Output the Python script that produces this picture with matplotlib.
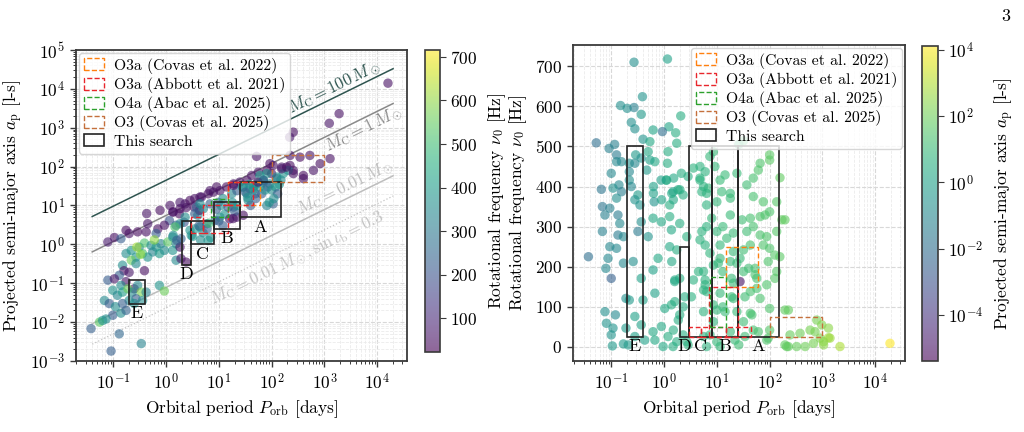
import matplotlib
matplotlib.use("Agg")
import numpy as np
import matplotlib.pyplot as plt
from matplotlib.colors import LogNorm, Normalize
from matplotlib.patches import Rectangle, Patch
from matplotlib.ticker import LogLocator, NullLocator, MultipleLocator

plt.rcParams.update({
    "font.family": "serif",
    "font.serif": ["cmr10", "DejaVu Serif"],
    "mathtext.fontset": "cm",
    "axes.formatter.use_mathtext": True,
    "axes.unicode_minus": False,
})

# ---- left panel: binary pulsars (P_orb [d], a_p [l-s], nu_0 [Hz]) ----
left_porb = [3.4, 2.4, 1.79, 1.34, 1.16, 0.93, 0.70, 0.45, 0.42, 0.29, 0.20, 0.175, 0.105, 0.079,
             0.14, 0.65, 1.55, 2.2, 4.0, 4.3, 0.175, 0.22, 0.31, 0.39, 0.52, 0.65, 0.80, 1.08,
             1.34, 1.55, 1.92, 0.27, 0.22, 0.27, 0.36, 0.45, 0.56, 0.75, 0.93, 1.34, 1.55, 1.92,
             0.15, 0.16, 0.20, 0.13, 0.175, 0.25, 0.39, 2.4, 3.0, 0.079, 0.105, 0.14, 0.098, 0.12,
             0.15, 0.19, 0.23, 0.29, 0.34, 0.27, 0.36, 0.42, 0.25, 0.068, 0.084, 0.11, 0.098, 0.14,
             0.175, 0.073, 0.055, 0.063, 0.038, 0.13, 0.34, 0.091, 0.75, 0.93, 0.20, 0.15,
             1.37, 1.84, 2.3, 2.85, 3.5, 4.7, 6.3, 7.9, 10.5, 14, 19, 25, 34, 42, 56, 81, 107, 155,
             223, 257, 52, 93,
             2.3, 3.5, 3.8, 5.1, 6.8, 9.8, 12, 17.5, 22, 29, 39, 52, 70, 93, 125, 166, 207, 60, 81,
             22, 19, 8.5, 10.5, 4.4, 5.9, 2.85, 1.84, 1.48, 36, 49, 1.37,
             16000, 1900, 1240, 257, 220, 224, 345, 530, 830, 1280, 155, 193, 258, 400, 620, 100,
             70, 81, 125, 400, 107, 34, 45, 19, 9.1, 6.8, 4.4, 1.84, 1.19, 0.77, 0.43, 4.4,
             28, 32, 38, 45, 50, 60, 65, 75, 85, 100, 120, 130, 110, 90, 40, 35, 55, 70, 140, 150,
             9, 11, 13, 15, 18, 20, 22, 10, 16, 12,
             3.5, 4.2, 5, 6, 7, 4.5, 6.5, 3.2,
             18.6, 29, 6.3, 1.84, 1.6, 0.28, 0.6, 0.33]
left_ap = [9.1, 8.8, 6.1, 6.8, 4.1, 3.1, 2.5, 3.4, 2.1, 2.1, 1.9, 2.3, 1.5, 1.15,
           1.4, 1.9, 3.1, 3.7, 5.6, 7.5, 0.58, 0.70, 0.85, 1.08, 0.94, 0.85, 1.04, 1.15,
           1.54, 1.04, 1.4, 0.47, 0.39, 0.32, 0.58, 0.47, 0.64, 0.58, 0.70, 0.70, 0.39, 0.43,
           0.29, 0.21, 0.19, 0.16, 0.11, 0.072, 0.21, 0.35, 1.7, 0.12, 0.13, 0.088, 0.066, 0.049,
           0.059, 0.072, 0.059, 0.088, 0.059, 0.040, 0.036, 0.059, 0.030, 0.036, 0.030, 0.025, 0.015, 0.017,
           0.020, 0.012, 0.010, 0.011, 0.0068, 0.0050, 0.0028, 0.0018, 0.088, 0.063, 0.036, 0.030,
           6.8, 8.3, 11, 13.5, 15, 16.5, 20, 22, 24, 30, 36, 40, 44, 59, 72, 80, 107, 97,
           107, 80, 183, 119,
           5.0, 6.1, 9.1, 8.3, 11, 12, 15, 20, 24, 30, 27, 36, 40, 36, 49, 66, 80, 59, 10,
           5.0, 9.1, 4.1, 5.0, 2.8, 3.4, 2.3, 3.4, 2.8, 13.5, 20, 1.7,
           14000, 2300, 1300, 770, 570, 194, 175, 194, 119, 160, 88, 97, 66, 59, 80, 66,
           44, 66, 54, 49, 11, 20, 30, 33, 30, 24, 16.5, 12, 10, 7.5, 6.2, 11,
           30, 22, 35, 25, 15, 30, 20, 25, 30, 25, 30, 20, 15, 12, 10, 16, 40, 45, 35, 45,
           8, 10, 6, 9, 12, 7, 10, 4, 4.5, 3,
           2.5, 3.0, 2, 2.5, 1.5, 1.3, 3.5, 1.6,
           4.6, 5.6, 1.26, 0.85, 1.27, 0.85, 1.3, 0.55]
left_nu = [60, 45, 40, 55, 200, 50, 45, 60, 50, 40, 55, 45, 50, 70,
           220, 220, 230, 200, 350, 50, 360, 380, 340, 520, 360, 400, 330, 540,
           360, 350, 230, 380, 560, 350, 520, 380, 340, 400, 360, 380, 350, 60,
           360, 50, 60, 230, 50, 60, 45, 40, 360, 220, 60, 360, 380, 340,
           400, 560, 360, 350, 580, 220, 360, 330, 360, 350, 220, 360, 220, 360,
           240, 360, 540, 380, 230, 250, 330, 230, 380, 560, 360, 230,
           50, 45, 55, 40, 50, 60, 45, 50, 55, 40, 50, 60, 45, 50, 55, 40, 50, 60,
           45, 50, 55, 45,
           360, 230, 220, 350, 230, 240, 360, 340, 220, 360, 230, 380, 220, 360, 230, 380, 360, 400, 330,
           60, 230, 220, 360, 360, 230, 380, 350, 520, 360, 230, 360,
           50, 50, 55, 45, 60, 50, 40, 55, 45, 50, 60, 45, 50, 40, 55, 50,
           360, 380, 360, 50, 230, 380, 400, 50, 45, 55, 50, 60, 50, 45, 55, 360,
           360, 230, 380, 360, 230, 360, 220, 380, 230, 360, 380, 230, 360, 380, 230, 360, 50, 230, 380, 360,
           230, 360, 380, 230, 360, 230, 380, 230, 50, 230,
           380, 230, 360, 230, 380, 360, 500, 380,
           50, 45, 380, 50, 230, 620, 600, 600]

# ---- right panel: (P_orb [d], nu_0 [Hz], a_p [l-s]) ----
right_porb = [0.27, 1.16, 0.39, 0.15, 0.20, 0.27, 0.37, 0.24, 0.28, 2.07, 1.24, 0.93, 1.66, 0.62,
              0.052, 0.091, 0.116, 0.126, 0.156, 0.126, 0.10, 0.22, 0.28, 0.29, 0.37, 0.40, 0.54, 0.50,
              0.67, 1.19, 0.22, 0.22, 0.24, 0.14, 0.108, 0.065, 0.156, 0.126, 0.32, 0.65, 1.1, 1.52,
              2.13, 1.16, 1.48, 1.84, 2.85,
              0.068, 0.076, 0.094, 0.134, 0.145, 0.134, 0.17, 0.068, 0.094, 0.126, 0.037, 0.087, 0.079,
              0.10, 0.17, 0.26, 0.32, 0.37, 0.50, 0.62, 0.89, 1.28, 1.28, 1.98, 1.38, 1.28, 0.77, 0.62,
              0.37, 0.19, 0.40, 0.67, 1.03, 1.38, 1.59, 1.98, 2.47, 0.076, 0.12, 0.081, 0.108, 0.10,
              0.105, 0.17, 0.21, 0.19, 0.28, 0.37, 0.43, 0.62, 0.89, 0.67, 0.96, 1.19, 1.48, 1.98,
              2.3, 0.28, 2.85, 0.22, 0.35,
              32, 26, 8.6, 66, 100, 61, 157, 49, 11.5, 6.9, 5.2, 12.4, 6.4, 10, 18, 30, 43, 66, 82,
              100, 195, 13, 10, 6.4, 20.5, 15.4, 66, 88, 136, 43, 32, 20.5, 11.5, 6.0, 76, 100, 126,
              94, 53, 136, 27.5, 11.5, 8.6, 5.6, 19, 43, 20.5, 11.5, 6.4, 195, 46, 32, 8.6, 5.6, 61,
              94, 243, 377, 582, 725, 900, 1300, 226, 325, 470, 675, 1050, 2150, 19000, 26, 11.5, 7.4,
              18, 6.4,
              170, 156, 780, 970, 1300, 210, 1390, 1050,
              1.74, 3.6, 4.8, 7.4, 4.8, 5.6, 6.4, 2.3, 2.0, 1.12, 1.4, 1.5, 0.90, 0.63, 0.63, 0.88,
              0.47, 0.54, 18, 100, 0.28,
              1.5, 1.86, 1.6, 2.3, 3.3, 5.6, 6.0, 4.5, 3.6, 1.6, 1.4, 1.74, 2.7, 4.8, 7.4, 10.7, 10,
              13, 19, 34, 57, 43, 49, 34, 22, 10, 5.6, 2.7, 1.74, 100, 226, 195, 88, 24, 40, 53, 20.5,
              4.8, 6.0, 9.2, 14.3, 24, 37, 49, 76, 136, 5.2, 8.0, 18, 37, 49, 27.5, 18, 13, 6.0,
              32, 57, 88, 126, 66, 100, 8.6, 14.3, 24]
right_nu = [710, 718, 624, 602, 595, 597, 580, 560, 544, 576, 549, 537, 534, 541,
            509, 495, 505, 479, 462, 462, 433, 458, 458, 479, 471, 518, 512, 487,
            462, 487, 437, 416, 400, 404, 396, 393, 387, 371, 379, 362, 416, 421,
            433, 458, 387, 392, 425,
            350, 329, 346, 329, 308, 279, 275, 288, 250, 246, 225, 221, 196,
            171, 209, 213, 288, 312, 275, 321, 312, 354, 325, 308, 292, 250, 221, 192,
            171, 121, 117, 134, 96, 105, 163, 171, 125, 88, 80, 59, 47, 30,
            2.5, 7.5, 5, 47, 76, 55, 17, 38, 51, 17, 1, 26, 1, 80,
            30, 26, 5, 117, 354,
            514, 505, 487, 458, 466, 441, 422, 421, 416, 396, 387, 387, 354, 362, 371, 317, 321, 325, 329,
            337, 317, 300, 288, 300, 284, 271, 279, 275, 288, 254, 242, 238, 254, 254, 254, 246, 229,
            213, 196, 188, 163, 221, 204, 188, 171, 138, 121, 134, 138, 92, 80, 63, 63, 88, 38,
            22, 30, 34, 42, 38, 22, 23, 1, 1, 1, 9, 5, 1, 9, 5, 1, 30,
            38, 1,
            317, 225, 67, 55, 47, 1, 22, 13,
            508, 446, 450, 475, 416, 400, 383, 379, 392, 416, 383, 367, 367, 400, 383, 416,
            441, 466, 383, 479, 367,
            42, 67, 113, 100, 125, 142, 167, 188, 167, 167, 213, 242, 275, 267, 234, 209, 92,
            100, 125, 125, 146, 84, 42, 26, 17, 13, 26, 13, 13, 42, 92, 5, 17, 209, 196, 180, 159,
            421, 437, 450, 429, 433, 404, 375, 362, 362, 288, 321, 329, 288, 300, 221, 213, 188, 155,
            188, 171, 155, 171, 121, 96, 105, 88, 88]
right_ap = [0.2, 1, 0.3, 0.2, 0.2, 0.05, 0.5, 0.2, 0.2, 3, 1.5, 0.01, 3, 1.5,
            0.01, 0.05, 0.05, 0.03, 0.1, 0.1, 0.1, 0.2, 0.1, 0.5, 0.2, 0.3, 2, 2,
            2, 3, 0.1, 0.2, 0.1, 0.1, 0.2, 0.02, 0.04, 0.2, 0.6, 0.3, 3, 2,
            3, 3, 1, 2, 3,
            0.02, 0.05, 0.05, 0.03, 0.1, 0.03, 0.1, 0.05, 0.1, 0.1, 0.01, 0.1, 0.1,
            0.003, 0.1, 0.2, 0.03, 0.2, 0.3, 2, 2, 3, 3, 3, 2, 2, 2, 1,
            1, 0.2, 1, 1, 2, 3, 2, 3, 3, 0.2, 0.1, 0.3, 0.3, 0.3,
            0.5, 0.5, 0.5, 0.5, 1, 1, 1, 2, 2, 2, 2, 3, 3, 3,
            3, 1, 5, 0.5, 0.3,
            20, 10, 10, 30, 50, 30, 60, 20, 10, 8, 5, 10, 5, 8, 10, 15, 20, 30, 30,
            30, 60, 10, 8, 5, 10, 10, 25, 30, 40, 20, 15, 10, 8, 5, 30, 30, 40,
            30, 20, 40, 1e-5, 8, 6, 5, 10, 20, 10, 8, 5, 60, 20, 15, 6, 5, 25,
            30, 80, 100, 150, 150, 200, 500, 70, 80, 100, 150, 300, 800, 15000, 15, 8, 6,
            10, 5,
            60, 50, 150, 200, 300, 60, 500, 300,
            3, 5, 5, 8, 5, 5, 5, 3, 3, 2, 2, 2, 1.5, 1, 1, 1,
            0.5, 1, 10, 50, 0.3,
            3, 3, 3, 3, 4, 5, 5, 5, 4, 2, 2, 3, 4, 5, 6, 8, 8,
            10, 10, 15, 20, 20, 20, 15, 10, 8, 5, 4, 3, 40, 70, 60, 30, 10, 15, 20, 10,
            5, 5, 8, 10, 10, 15, 20, 30, 40, 5, 8, 10, 15, 20, 10, 10, 10, 5,
            15, 20, 30, 40, 25, 30, 8, 10, 10]

# ---- search regions ----
box_names = ["A", "B", "C", "D", "E"]
box_porb = [(25, 150), (8, 25), (3, 8), (2, 3), (0.2, 0.4)]
box_ap = [(5, 40), (2.5, 12.5), (1, 4), (0.3, 4), (0.03, 0.12)]
box_nu = [(25, 500), (25, 500), (25, 500), (25, 250), (25, 500)]

prev_names = ["O3a (Covas et al. 2022)", "O3a (Abbott et al. 2021)",
              "O4a (Abac et al. 2025)", "O3 (Covas et al. 2025)"]
prev_colors = ["#ff7f0e", "#e8262b", "#2ca02c", "#c4703c"]
# (P_lo, P_hi, a_lo, a_hi)
prev_left = [[(15, 60, 10, 40)],
             [(3, 5, 2, 5), (5, 15, 2, 10), (15, 45, 10, 40)],
             [(7, 15, 5, 15)],
             [(100, 1000, 40, 200)]]
# (P_lo, P_hi, nu_lo, nu_hi)
prev_right = [[(15, 60, 150, 250)],
              [(3, 5, 25, 50), (5, 15, 25, 50), (15, 45, 25, 50), (7, 25, 25, 150)],
              [(7.5, 15, 50, 175)],
              [(100, 1000, 25, 75)]]

# constant companion mass curves (end points)
mass_porb = [0.04, 2e4]
mass_ap = [[5.2, 3.3e4], [0.64, 4.2e3], [0.0091, 58], [0.0027, 17.5]]
mass_labels = [r"$M_\mathrm{C} = 100\,M_\odot$", r"$M_\mathrm{C} = 1\,M_\odot$",
               r"$M_\mathrm{C} = 0.01\,M_\odot$",
               r"$M_\mathrm{C} = 0.01\,M_\odot, \sin\iota_\mathrm{b} = 0.3$"]
mass_label_pos = [(1500, 11000), (5600, 910), (2460, 29), (300, 0.44)]
mass_colors = ["#2f5550", "#8a8a8a", "#bdbdbd", "#c4c4c4"]
mass_styles = ["-", "-", "-", ":"]

spine_c = "#3a3a3a"


def style_axes(ax):
    for s in ax.spines.values():
        s.set_color(spine_c)
        s.set_linewidth(1.3)
    ax.tick_params(which="both", direction="out", color=spine_c, labelsize=12.5)
    ax.tick_params(which="major", length=4.5, width=1.0)
    ax.tick_params(which="minor", length=2.5, width=0.7)
    ax.grid(True, which="major", color="#d8d8d8", ls="--", lw=0.8)
    ax.grid(True, which="minor", color="#ebebeb", ls="--", lw=0.6)
    ax.set_axisbelow(True)


def draw_box(ax, x0, x1, y0, y1, color, ls, lw):
    ax.add_patch(Rectangle((x0, y0), x1 - x0, y1 - y0, fill=False, edgecolor=color,
                           ls=ls, lw=lw, zorder=4))


fig = plt.figure(figsize=(10.24, 4.32), dpi=100)
ax1 = fig.add_axes([0.0742, 0.1644, 0.3232, 0.7199])
cax1 = fig.add_axes([0.4150, 0.1852, 0.0147, 0.699])
ax2 = fig.add_axes([0.5596, 0.1644, 0.3242, 0.7315])
cax2 = fig.add_axes([0.9004, 0.1644, 0.0156, 0.729])

# ---------------- left panel ----------------
ax1.set_xscale("log")
ax1.set_yscale("log")
ax1.set_xlim(0.0197, 3.66e4)
ax1.set_ylim(1e-3, 1e5)
style_axes(ax1)
ax1.xaxis.set_major_locator(LogLocator(base=10, numticks=20))
ax1.yaxis.set_major_locator(LogLocator(base=10, numticks=20))
ax1.xaxis.set_minor_locator(LogLocator(base=10, subs=np.arange(2, 10), numticks=100))
ax1.yaxis.set_minor_locator(LogLocator(base=10, subs=np.arange(2, 10), numticks=100))

for ys, c, ls in zip(mass_ap, mass_colors, mass_styles):
    ax1.plot(mass_porb, ys, color=c, ls=ls, lw=1.1 if ls == "-" else 0.9, zorder=1)

sc1 = ax1.scatter(left_porb, left_ap, c=left_nu, cmap="viridis",
                  norm=Normalize(22, 716), s=46, alpha=0.6, edgecolors="none", zorder=2)

for name, (p0, p1), (a0, a1) in zip(box_names, box_porb, box_ap):
    draw_box(ax1, p0, p1, a0, a1, "#222222", "-", 1.2)
    ax1.annotate(name, (np.sqrt(p0 * p1), a0), xytext=(0, -1.5), textcoords="offset points",
                 ha="center", va="top", fontsize=13, zorder=5)
for boxes, c in zip(prev_left, prev_colors):
    for (p0, p1, a0, a1) in boxes:
        draw_box(ax1, p0, p1, a0, a1, c, (0, (3.5, 2)), 1.0)

for ys, lab, (tx, ty), c in zip(mass_ap, mass_labels, mass_label_pos, mass_colors):
    d0 = ax1.transData.transform((mass_porb[0], ys[0]))
    d1 = ax1.transData.transform((mass_porb[1], ys[1]))
    ang = np.degrees(np.arctan2(d1[1] - d0[1], d1[0] - d0[0]))
    ax1.text(tx, ty, lab, rotation=ang, rotation_mode="anchor", ha="center", va="center",
             color=c, fontsize=12, zorder=3)

ax1.set_xlabel(r"Orbital period $P_\mathrm{orb}$ [days]", fontsize=12.5)
ax1.set_ylabel(r"Projected semi-major axis $a_\mathrm{p}$ [l-s]", fontsize=12.5, labelpad=3)

handles = [Patch(facecolor="none", edgecolor=c, ls="--", lw=1.0) for c in prev_colors]
handles.append(Patch(facecolor="none", edgecolor="#222222", lw=1.2))
labels = prev_names + ["This search"]
ax1.legend(handles, labels, loc="upper left", fontsize=11.3, labelspacing=0.2,
           handlelength=1.3, handleheight=0.8, borderpad=0.3, borderaxespad=0.2,
           handletextpad=0.6, framealpha=0.8, edgecolor="#cccccc")

cb1 = fig.colorbar(sc1, cax=cax1)
cb1.set_ticks([100, 200, 300, 400, 500, 600, 700])
cb1.ax.tick_params(labelsize=12.5, direction="out", length=4, color=spine_c)
cb1.outline.set_edgecolor(spine_c)
cb1.outline.set_linewidth(1.2)
cb1.set_label(r"Rotational frequency $\nu_0$ [Hz]", fontsize=12.5, labelpad=6)

# ---------------- right panel ----------------
ax2.set_xscale("log")
ax2.set_xlim(0.0189, 3.66e4)
ax2.set_ylim(-35, 753)
style_axes(ax2)
ax2.xaxis.set_major_locator(LogLocator(base=10, numticks=20))
ax2.xaxis.set_minor_locator(LogLocator(base=10, subs=np.arange(2, 10), numticks=100))
ax2.yaxis.set_major_locator(MultipleLocator(100))
ax2.yaxis.set_minor_locator(NullLocator())

sc2 = ax2.scatter(right_porb, right_nu, c=right_ap, cmap="viridis",
                  norm=LogNorm(4.1e-6, 1.3e4), s=46, alpha=0.6, edgecolors="none", zorder=2)

for name, (p0, p1), (n0, n1) in zip(box_names, box_porb, box_nu):
    draw_box(ax2, p0, p1, n0, n1, "#222222", "-", 1.2)
    ax2.annotate(name, (np.sqrt(p0 * p1), n0), xytext=(0, -1.5), textcoords="offset points",
                 ha="center", va="top", fontsize=13, zorder=5)
for boxes, c in zip(prev_right, prev_colors):
    for (p0, p1, n0, n1) in boxes:
        draw_box(ax2, p0, p1, n0, n1, c, (0, (3.5, 2)), 1.0)

ax2.set_xlabel(r"Orbital period $P_\mathrm{orb}$ [days]", fontsize=12.5)
ax2.set_ylabel(r"Rotational frequency $\nu_0$ [Hz]", fontsize=12.5)
ax2.legend(handles, labels, loc="upper right", fontsize=11.3, labelspacing=0.2,
           handlelength=1.3, handleheight=0.8, borderpad=0.3, borderaxespad=0.2,
           handletextpad=0.6, framealpha=0.8, edgecolor="#cccccc")

cb2 = fig.colorbar(sc2, cax=cax2)
cb2.set_ticks([1e-4, 1e-2, 1, 1e2, 1e4])
cb2.ax.yaxis.set_minor_locator(NullLocator())
cb2.ax.tick_params(labelsize=12.5, direction="out", length=4, color=spine_c)
cb2.outline.set_edgecolor(spine_c)
cb2.outline.set_linewidth(1.2)
cb2.set_label(r"Projected semi-major axis $a_\mathrm{p}$ [l-s]", fontsize=12.5, labelpad=6)

fig.text(0.982, 0.962, "3", fontsize=13, ha="center", va="center")

fig.savefig("out.png", dpi=100)
